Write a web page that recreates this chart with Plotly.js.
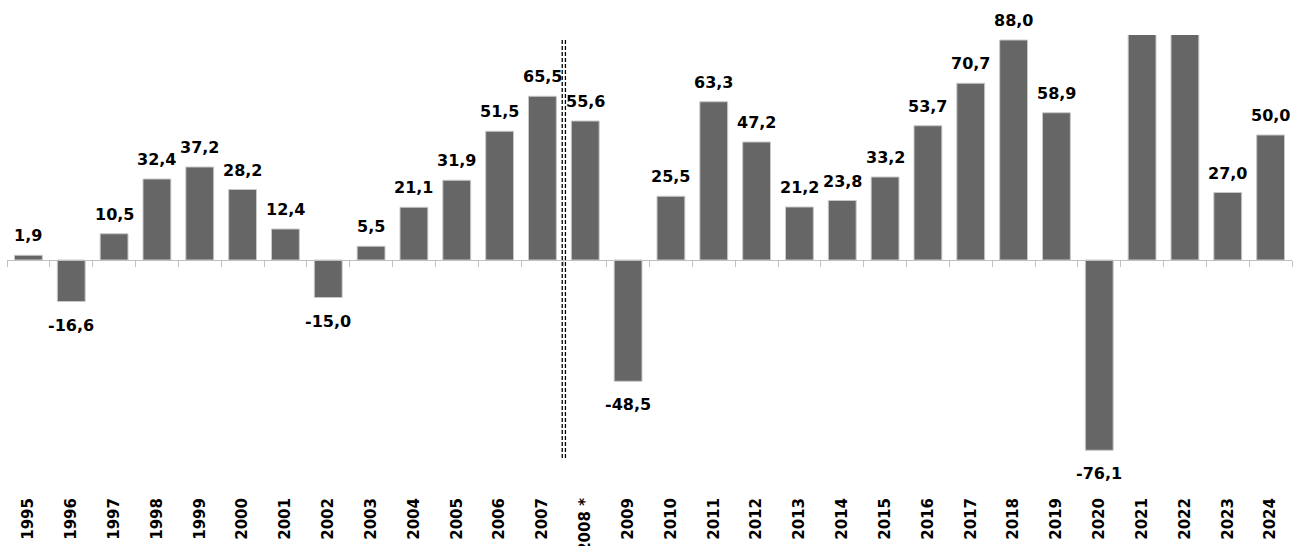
<!DOCTYPE html>
<html>
<head>
<meta charset="utf-8">
<script src="https://cdn.plot.ly/plotly-3.0.1.min.js"></script>
<style>html,body{margin:0;padding:0;background:#fff;}#chart{width:1301px;height:546px;}</style>
</head>
<body>
<div id="chart"></div>
<script>
var years = ["1995","1996","1997","1998","1999","2000","2001","2002","2003","2004","2005","2006","2007","2008 *","2009","2010","2011","2012","2013","2014","2015","2016","2017","2018","2019","2020","2021","2022","2023","2024"];
var values = [1.9,-16.6,10.5,32.4,37.2,28.2,12.4,-15.0,5.5,21.1,31.9,51.5,65.5,55.6,-48.5,25.5,63.3,47.2,21.2,23.8,33.2,53.7,70.7,88.0,58.9,-76.1,110.0,105.0,27.0,50.0];
var breakCategory = "2008 *";

var yMin = -80, yMax = 90;
var fontFam = "DejaVu Sans, Verdana, sans-serif";

var annotations = [];
values.forEach(function(v, i){
  if (v > yMax || v < yMin) return;
  annotations.push({
    x: i, y: v, xref: 'x', yref: 'y',
    text: '<b>' + v.toFixed(1).replace('.', ',') + '</b>',
    showarrow: false,
    yanchor: v >= 0 ? 'bottom' : 'top',
    yshift: v >= 0 ? 8 : -12,
    font: {family: fontFam, size: 16, color: '#000'}
  });
});

var bx = years.indexOf(breakCategory) - 0.5;
var shapes = [-1.6, 1.6].map(function(off){
  return {
    type: 'line', xref: 'x', yref: 'paper',
    xsizemode: 'pixel', xanchor: bx, x0: off, x1: off,
    y0: 0.005, y1: 0.988,
    line: {color: '#000', width: 1.3, dash: '4px,2px'}
  };
});

var traces = [
  {
    type: 'bar', x: years, y: values,
    marker: {color: '#666666', line: {color: '#c8c8c8', width: 1}},
    hoverinfo: 'x+y', showlegend: false
  },
  {
    type: 'scatter', mode: 'none', x: years, y: values,
    xaxis: 'x2', yaxis: 'y', hoverinfo: 'skip', showlegend: false
  }
];

var layout = {
  width: 1301, height: 546, autosize: false,
  margin: {l: 7, r: 9, t: 35, b: 86, pad: 0},
  paper_bgcolor: '#fff', plot_bgcolor: '#fff',
  bargap: 0.35,
  font: {family: fontFam, color: '#000'},
  xaxis: {
    type: 'category', range: [-0.5, years.length - 0.5],
    tickangle: -90, showline: false, showgrid: false, zeroline: false,
    ticks: '', ticklabelstandoff: 34,
    tickfont: {family: fontFam, size: 15, color: '#000', weight: 'bold'}
  },
  xaxis2: {
    type: 'category', overlaying: 'x', anchor: 'free',
    position: (0 - yMin) / (yMax - yMin),
    range: [-0.5, years.length - 0.5],
    showline: true, linecolor: '#c0c0c0', linewidth: 1,
    ticks: 'outside', tickson: 'boundaries', ticklen: 6, tickcolor: '#c0c0c0', tickwidth: 1,
    showticklabels: false, showgrid: false, zeroline: false
  },
  yaxis: {
    range: [yMin, yMax], visible: false, showgrid: false, zeroline: false
  },
  annotations: annotations,
  shapes: shapes
};

Plotly.newPlot('chart', traces, layout, {displayModeBar: false, staticPlot: true});
</script>
</body>
</html>
